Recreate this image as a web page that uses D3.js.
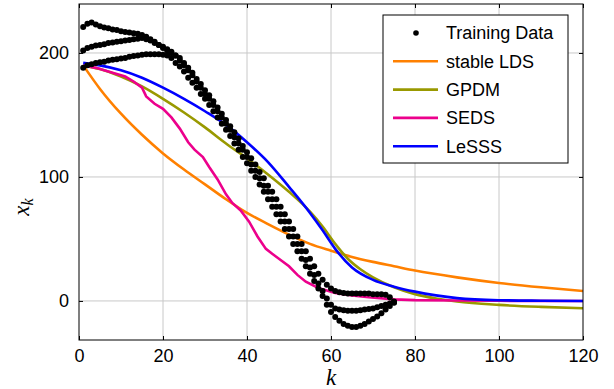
<!DOCTYPE html>
<html>
<head>
<meta charset="utf-8">
<script src="https://cdn.jsdelivr.net/npm/d3@7"></script>
<style>
  body { margin: 0; background: #fff; }
  svg { display: block; }
  .tick text { font-family: "Liberation Sans", Arial, sans-serif; font-size: 18px; fill: #000; }
</style>
</head>
<body>
<svg id="chart" width="614" height="389"></svg>
<script>
// Training data: three demonstrations, value at k = 1, 2, ..., 75
const trainA = [221, 223.5, 224.5, 223, 221.5, 220.5, 220, 219, 218.5, 217.5,
  217, 216.5, 216, 215.5, 214.5, 213, 211, 209, 206.5, 204,
  202, 200, 198, 196, 192, 188, 184, 179, 175, 170,
  166, 161, 156, 151, 146, 141, 136, 131, 125, 120,
  115, 110, 104, 99, 93, 88, 82, 76, 70, 64,
  58, 52, 46, 40, 34, 28, 22, 17, 13, 10,
  8, 7, 6.5, 6, 6, 6, 6, 6, 6, 5.5,
  5.5, 5.5, 5, 3, -0.5];
const trainB = [202, 204, 205, 206, 206.5, 207, 208, 208.5, 209, 209.5,
  210, 210.5, 211, 211.5, 212, 211, 210, 208, 206.5, 205,
  203, 201, 198, 194, 190, 186, 182, 177, 172, 167,
  163, 158, 153, 148, 143, 138, 132, 127, 122, 116,
  110, 105, 99, 93, 88, 82, 76, 70, 64, 58,
  52, 46, 40, 33, 27, 21, 14, 8, 2, -3,
  -6, -7, -7.5, -8, -8, -8, -7.5, -7, -6.5, -6,
  -5, -4, -3, -2, -1];
const trainC = [188, 190, 191, 192, 192.5, 193, 194, 194.5, 195, 195.5,
  196, 197, 197.5, 198, 198.5, 199, 199, 199, 199, 198.5,
  198, 196, 192, 189, 185, 180, 176, 172, 167, 163,
  158, 153, 148, 143, 138, 133, 127, 122, 116, 111,
  105, 100, 94, 88, 82, 76, 70, 64, 58, 52,
  46, 40, 34, 28, 22, 16, 10, 4, -3, -9,
  -13, -16, -18.5, -20, -21, -21, -20, -18.5, -16.5, -14.5,
  -12.5, -10, -7, -4, -1.5];

// Model reproductions
const ldsK = [1, 5, 10, 15, 20, 25, 30, 35, 40, 45, 50, 55, 60, 65, 70, 75, 80, 90, 100, 110, 120];
const ldsV = [190, 171, 151, 134, 119, 106, 94, 82, 71, 62, 53.5, 46, 40.5, 35.5, 31.5, 28, 24.5, 19, 14.5, 11, 8];

const gpdmK = [1, 5, 10, 15, 20, 25, 30, 35, 40, 45, 50, 55, 58, 61, 64, 67, 70, 75, 80, 85, 90, 100, 110, 120];
const gpdmV = [190, 187, 181, 173, 163, 152, 140, 127, 115, 102, 88, 72, 60, 46, 34, 25.5, 19, 11, 5.5, 2, -0.5, -3.2, -4.8, -5.9];

const sedsK = [1, 4, 8, 11, 13, 15, 16, 18, 20, 22, 24, 26, 27.5, 29.5, 31, 33, 35, 36.5, 38.5, 40.5,
  42.5, 44.5, 46, 48, 50, 52, 54, 57, 61, 65, 69, 75, 80, 90, 100, 120];
const sedsV = [190, 188, 184, 181, 177, 172, 165, 159, 155, 148, 139, 128, 122, 116, 108, 98, 86, 79, 73, 64,
  52, 42, 38, 33, 28, 21, 15.5, 10.5, 6.5, 4.5, 3, 1.3, 0.7, 0.3, 0.1, 0];

const lesssK = [1, 5, 10, 15, 20, 25, 30, 35, 40, 45, 50, 55, 58, 61, 65, 70, 75, 80, 85, 90, 100, 110, 120];
const lesssV = [192, 190, 186, 180, 172, 163, 153, 142, 128, 112, 92, 71, 57, 42, 27, 17, 11.5, 7.5, 4.5, 2.3, 0.6, 0.2, 0];

const xTicks = [0, 20, 40, 60, 80, 100, 120];
const yTicks = [0, 100, 200];

const series = [
  { name: 'stable LDS', k: ldsK, v: ldsV, color: '#ff8000', curve: d3.curveMonotoneX },
  { name: 'GPDM', k: gpdmK, v: gpdmV, color: '#999900', curve: d3.curveMonotoneX },
  { name: 'SEDS', k: sedsK, v: sedsV, color: '#ec008c', curve: d3.curveLinear },
  { name: 'LeSSS', k: lesssK, v: lesssV, color: '#0000ff', curve: d3.curveMonotoneX }
];

const svg = d3.select('#chart');
const pLeft = 79, pRight = 583, pTop = 4, pBottom = 340;

const x = d3.scaleLinear().domain([0, 120]).range([pLeft, pRight]);
const y = d3.scaleLinear().domain([-31.5, 239.5]).range([pBottom, pTop]);

svg.append('defs').append('clipPath').attr('id', 'plot')
  .append('rect')
  .attr('x', pLeft).attr('y', pTop)
  .attr('width', pRight - pLeft).attr('height', pBottom - pTop);

// Grid
const grid = svg.append('g').attr('stroke', '#c8c8c8').attr('stroke-width', 1);
grid.selectAll('.gx').data(xTicks.slice(1, -1)).enter().append('line')
  .attr('x1', d => x(d)).attr('x2', d => x(d))
  .attr('y1', pTop).attr('y2', pBottom);
grid.selectAll('.gy').data(yTicks).enter().append('line')
  .attr('x1', pLeft).attr('x2', pRight)
  .attr('y1', d => y(d)).attr('y2', d => y(d));

// Axes (ticks pointing inward on all four sides)
svg.append('g')
  .attr('transform', `translate(0,${pBottom})`)
  .call(d3.axisBottom(x).tickValues(xTicks).tickSize(-4).tickPadding(9))
  .call(g => g.select('.domain').remove());
svg.append('g')
  .attr('transform', `translate(0,${pTop})`)
  .call(d3.axisTop(x).tickValues(xTicks).tickSize(-4).tickFormat(''))
  .call(g => g.select('.domain').remove());
svg.append('g')
  .attr('transform', `translate(${pLeft},0)`)
  .call(d3.axisLeft(y).tickValues(yTicks).tickSize(-4).tickPadding(10))
  .call(g => g.select('.domain').remove());
svg.append('g')
  .attr('transform', `translate(${pRight},0)`)
  .call(d3.axisRight(y).tickValues(yTicks).tickSize(-4).tickFormat(''))
  .call(g => g.select('.domain').remove());

// Lines
const plot = svg.append('g').attr('clip-path', 'url(#plot)');
series.forEach(s => {
  const line = d3.line()
    .x((d, i) => x(s.k[i]))
    .y(d => y(d))
    .curve(s.curve);
  plot.append('path')
    .attr('d', line(s.v))
    .attr('fill', 'none')
    .attr('stroke', s.color)
    .attr('stroke-width', 2.6);
});

// Training dots
[trainA, trainB, trainC].forEach(traj => {
  plot.selectAll(null)
    .data(traj)
    .enter().append('circle')
    .attr('cx', (d, i) => x(i + 1))
    .attr('cy', d => y(d))
    .attr('r', 3)
    .attr('fill', '#000');
});

// Frame
svg.append('rect')
  .attr('x', pLeft).attr('y', pTop)
  .attr('width', pRight - pLeft).attr('height', pBottom - pTop)
  .attr('fill', 'none').attr('stroke', '#000').attr('stroke-width', 1);

// Axis labels
svg.append('text')
  .attr('x', x(60)).attr('y', 385)
  .attr('text-anchor', 'middle')
  .style('font-family', '"Liberation Serif", "DejaVu Serif", serif')
  .style('font-style', 'italic')
  .style('font-size', '23px')
  .text('k');

const yl = svg.append('text')
  .attr('transform', 'translate(29,207) rotate(-90)')
  .attr('text-anchor', 'middle')
  .style('font-family', '"Liberation Serif", "DejaVu Serif", serif')
  .style('font-style', 'italic')
  .style('font-size', '23px');
yl.append('tspan').text('x');
yl.append('tspan').attr('dy', 4).style('font-size', '16px').text('k');

// Legend
const legend = svg.append('g');
legend.append('rect')
  .attr('x', 383).attr('y', 15).attr('width', 185).attr('height', 148)
  .attr('fill', '#fff').attr('stroke', '#000').attr('stroke-width', 1);

const rows = [{ name: 'Training Data', dot: true }].concat(series);
rows.forEach((r, i) => {
  const cy = 33 + i * 28.3;
  if (r.dot) {
    legend.append('circle').attr('cx', 416).attr('cy', cy).attr('r', 2.8).attr('fill', '#000');
  } else {
    legend.append('line')
      .attr('x1', 393).attr('x2', 438).attr('y1', cy).attr('y2', cy)
      .attr('stroke', r.color).attr('stroke-width', 2.6);
  }
  legend.append('text')
    .attr('x', 446).attr('y', cy).attr('dy', '0.36em')
    .style('font-family', '"Liberation Sans", Arial, sans-serif')
    .style('font-size', '18px')
    .text(r.name);
});
</script>
</body>
</html>
